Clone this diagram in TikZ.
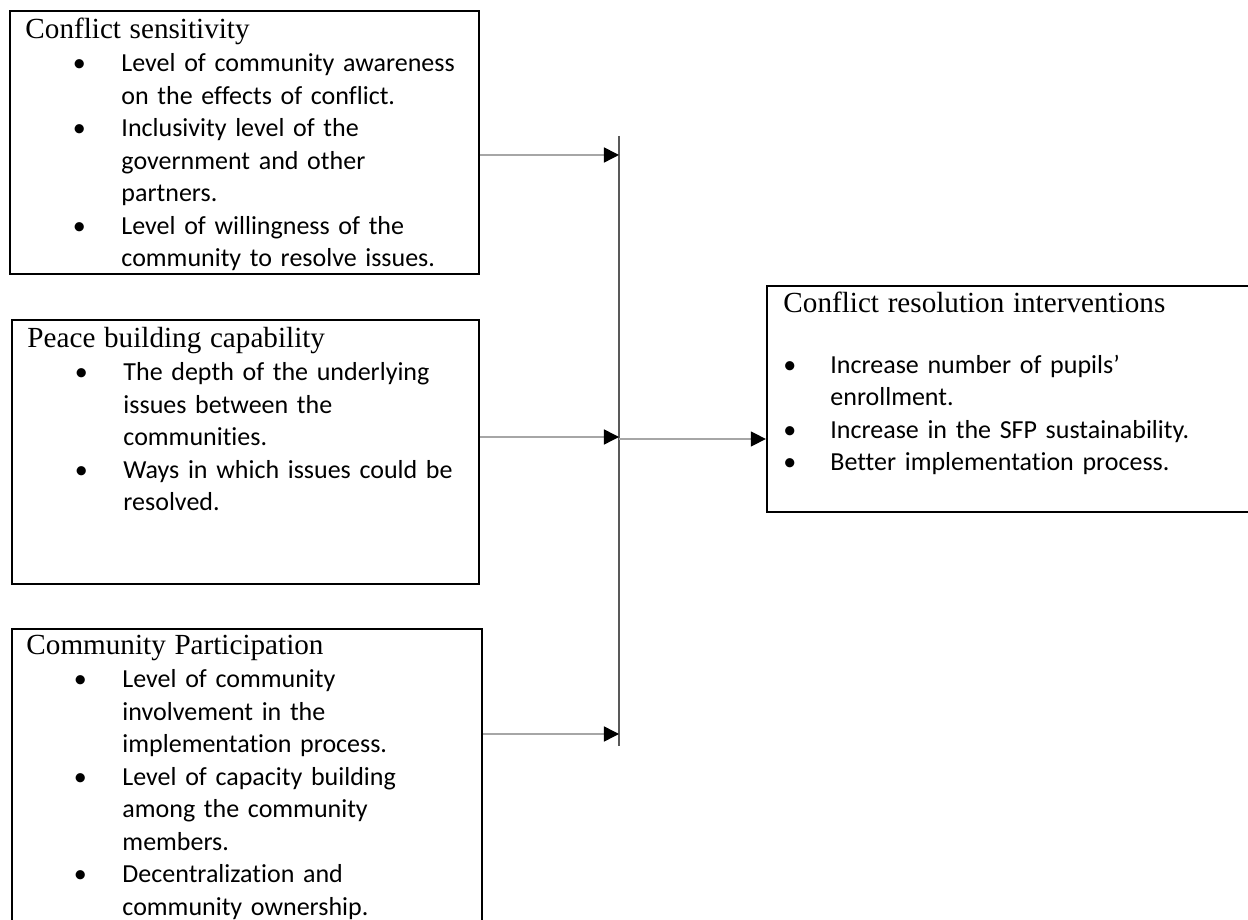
\documentclass[tikz,border=0pt]{standalone}
\usepackage{fontspec}
\setmainfont{Carlito}[Ligatures=CommonOff]
\newfontfamily\headfont{Liberation Serif}
\usepackage{tikz}
\usetikzlibrary{positioning}
\usetikzlibrary{calc}
\usetikzlibrary{arrows.meta}
\usetikzlibrary{fit}

\definecolor{arrowgray}{HTML}{A6A6A6}
\definecolor{busgray}{HTML}{595959}

\newlength\bulx \setlength\bulx{19.5pt}
\newlength\bulw \setlength\bulw{20pt}
\newcommand{\bitem}[1]{\hspace*{\bulx}\makebox[\bulw][l]{\textbullet}#1}
\newcommand{\bcont}[1]{\hspace*{\dimexpr\bulx+\bulw\relax}#1}
\newcommand{\head}[1]{{\headfont\fontsize{12pt}{13.4pt}\selectfont #1}}

\begin{document}
\begin{tikzpicture}[
    x=0.4115pt, y=-0.4115pt,   % one unit is one pixel of the page
    ]
% -------------------------------------------------
\tikzset{
  box/.style={draw, line width=0.95pt, inner sep=0pt},
  txt/.style={anchor=base west, inner sep=0pt, text width=195pt, align=left,
    font=\fontsize{10.7pt}{13.4pt}\selectfont},
  line/.style={draw, arrowgray, line width=0.6pt,
    -{Triangle[length=6.2pt, width=6.2pt, color=black]}},
  bus/.style={draw, busgray, line width=0.9pt}
}
% -------------------------------------------------
\useasboundingbox (0,0) rectangle (1248,920);

% Placing the boxes
\node[box, fit={(10,11) (479,274)}] (cs) {};
\node[box, fit={(12,320) (479,584)}] (pb) {};
\node[box, fit={(12,629) (482,945)}] (cp) {};   % runs off the page
\node[box, fit={(767,286) (1265,512)}] (cr) {}; % runs off the page

% Texts in the boxes
\node[txt] (cs-txt) at (25,39) {\head{Conflict sensitivity}\\
  \bitem{Level of community awareness}\\
  \bcont{on the effects of conflict.}\\
  \bitem{Inclusivity level of the}\\
  \bcont{government and other}\\
  \bcont{partners.}\\
  \bitem{Level of willingness of the}\\
  \bcont{community to resolve issues.}};

\node[txt] (pb-txt) at (27,348) {\head{Peace building capability}\\
  \bitem{The depth of the underlying}\\
  \bcont{issues between the}\\
  \bcont{communities.}\\
  \bitem{Ways in which issues could be}\\
  \bcont{resolved.}};

\node[txt] (cp-txt) at (26,655) {\head{Community Participation}\\
  \bitem{Level of community}\\
  \bcont{involvement in the}\\
  \bcont{implementation process.}\\
  \bitem{Level of capacity building}\\
  \bcont{among the community}\\
  \bcont{members.}\\
  \bitem{Decentralization and}\\
  \bcont{community ownership.}};

\node[txt] (cr-txt) at (783,313) {\setlength\bulx{0pt}\setlength\bulw{19.3pt}%
  \head{Conflict resolution interventions}\\[11.3pt]
  \bitem{Increase number of pupils’}\\
  \bcont{enrollment.}\\
  \bitem{Increase in the SFP sustainability.}\\
  \bitem{Better implementation process.}};

% The collecting line
\coordinate (bus-top) at (619,136);
\coordinate (bus-bot) at (619,746);
\coordinate (j1) at (619,155);
\coordinate (j2) at (619,437);
\coordinate (j3) at (619,734);
\coordinate (j4) at (619,439);

\path [bus] (bus-top) -- (bus-bot);

\path [line] (cs.east |- j1) -- (j1);
\path [line] (pb.east |- j2) -- (j2);
\path [line] (cp.east |- j3) -- (j3);
\path [line] (j4) -- (j4 -| cr.west);

\end{tikzpicture}
\end{document}
